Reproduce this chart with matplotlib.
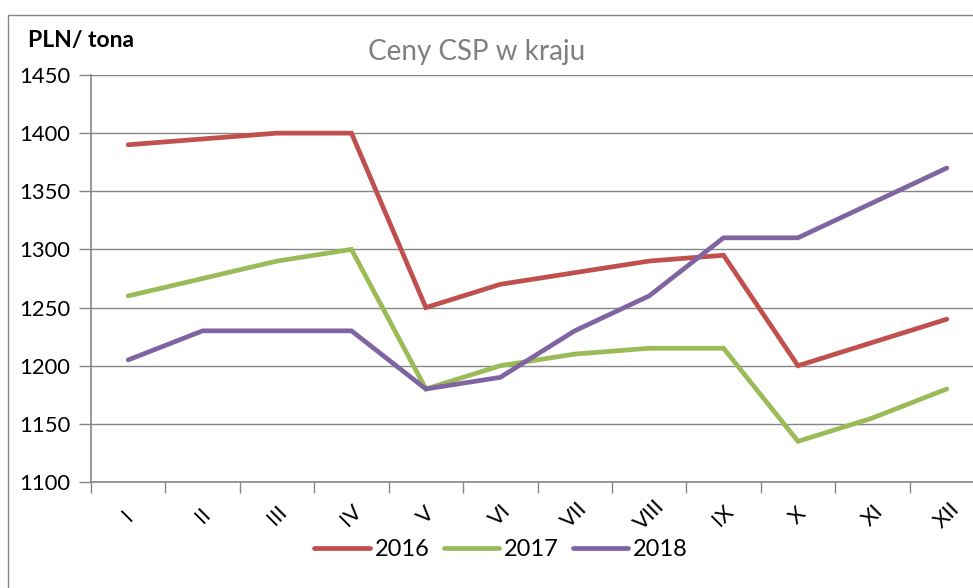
import matplotlib
matplotlib.use("Agg")
import matplotlib.pyplot as plt
from matplotlib.lines import Line2D
from matplotlib.patches import Rectangle
import numpy as np

months = ["I", "II", "III", "IV", "V", "VI", "VII", "VIII", "IX", "X", "XI", "XII"]
y2016 = [1390, 1395, 1400, 1400, 1250, 1270, 1280, 1290, 1295, 1200, 1220, 1240]
y2017 = [1260, 1275, 1290, 1300, 1180, 1200, 1210, 1215, 1215, 1135, 1155, 1180]
y2018 = [1205, 1230, 1230, 1230, 1180, 1190, 1230, 1260, 1310, 1310, 1340, 1370]
series = [("2016", y2016, "#C0504D"), ("2017", y2017, "#9BBB59"), ("2018", y2018, "#8064A2")]
yticks = [1100, 1150, 1200, 1250, 1300, 1350, 1400, 1450]

plt.rcParams['font.family'] = ['Lato', 'DejaVu Sans']
W, H = 973, 588
fig = plt.figure(figsize=(W / 100, H / 100), dpi=100)
gray = "#868686"

# outer chart border (partially outside the image on right/bottom)
fig.patches.append(Rectangle((8 / W, -0.1), 1.2, 1 - 15 / H + 0.1, transform=fig.transFigure,
                             fill=False, edgecolor=gray, lw=1.0))

ax = fig.add_axes([91 / W, 1 - 482 / H, 893 / W, (482 - 75) / H])
x = np.arange(len(months))
for name, vals, col in series:
    ax.plot(x, vals, color=col, lw=3.4, solid_capstyle='round', solid_joinstyle='miter', label=name)

ax.set_xlim(-0.5, len(months) - 0.5)
ax.set_ylim(1100, 1450)
ax.set_yticks(yticks)
ax.set_yticklabels([str(v) for v in yticks], fontsize=15.8)
ax.yaxis.grid(True, color=gray, lw=1.0)
ax.set_axisbelow(True)

ax.set_xticks(np.arange(-0.5, len(months), 1.0))
ax.set_xticklabels([])
ax.set_xticks(x, minor=True)
ax.set_xticklabels(months, minor=True, rotation=45, ha='center', va='center', fontsize=16)
ax.tick_params(axis='x', which='minor', length=0, pad=24)
ax.tick_params(axis='x', which='major', length=8, color=gray, width=1)
ax.tick_params(axis='y', length=9, color=gray, width=1, pad=6)

for s in ['top', 'right']:
    ax.spines[s].set_visible(False)
for s in ['left', 'bottom']:
    ax.spines[s].set_color(gray)
    ax.spines[s].set_linewidth(1.2)

fig.text(477 / W, 1 - 52 / H, "Ceny CSP w kraju", ha='center', va='center', fontsize=20, color="#7F7F7F")
fig.text(28 / W, 1 - 40 / H, "PLN/ tona", ha='left', va='center', fontsize=16.5, fontweight='bold', color='black')

handles = [Line2D([0], [0], color=c, lw=3.4, solid_capstyle='round') for _, _, c in series]
fig.legend(handles, [n for n, _, _ in series], loc='center', bbox_to_anchor=(501 / W, 1 - 550 / H),
           ncol=3, frameon=False, fontsize=17, handlelength=2.35, handletextpad=0.2,
           columnspacing=0.6, borderpad=0)

fig.savefig("out.png", dpi=100)
